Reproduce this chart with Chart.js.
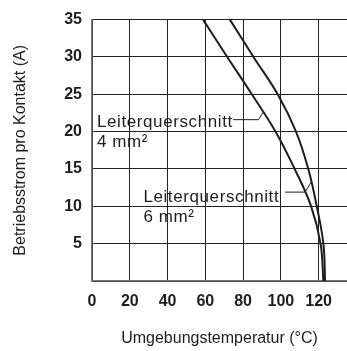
<!DOCTYPE html>
<html>
<head>
<meta charset="utf-8">
<script src="https://cdn.jsdelivr.net/npm/chart.js@4"></script>
<style>
    html, body { margin: 0; padding: 0; background: #fff; }
    #wrap { width: 347px; height: 351px; }
</style>
</head>
<body>
<div id="wrap"><canvas id="myChart"></canvas></div>
<script>
// Betriebsstrom (A) und Umgebungstemperatur (°C) je Leiterquerschnitt
const current = [35, 30, 25, 20, 15, 10, 5, 0];
const temp4mm = [58.8, 71.6, 84.6, 97.2, 107.3, 116.0, 121.0, 122.5];
const temp6mm = [73.0, 85.5, 98.3, 108.0, 114.5, 119.0, 122.5, 123.4];

const xTicks = [0, 20, 40, 60, 80, 100, 120];
const yTicks = [5, 10, 15, 20, 25, 30, 35];

const labels4 = ["Leiterquerschnitt", "4 mm²"];
const labels6 = ["Leiterquerschnitt", "6 mm²"];

const ink = "#1e1e1e";
const font = "'Liberation Sans', Arial, sans-serif";

// Beschriftungen mit Hinweislinie, in Datenkoordinaten
const notes = [
    { text: labels4, at: [2.6, 20.6], leader: [[74.7, 21.6], [88.1, 21.6], [90.6, 22.6]] },
    { text: labels6, at: [27.2, 10.6], leader: [[102.2, 11.9], [112.8, 11.9], [116.2, 13.3]] },
];

const notePlugin = {
    id: "notes",
    afterDatasetsDraw(chart) {
        const { ctx, scales: { x, y } } = chart;
        ctx.save();
        ctx.fillStyle = ink;
        ctx.strokeStyle = ink;
        ctx.lineWidth = 1;
        ctx.font = "17px " + font;
        ctx.letterSpacing = "0.6px";
        ctx.textBaseline = "alphabetic";
        notes.forEach((n) => {
            const px = x.getPixelForValue(n.at[0]);
            const py = y.getPixelForValue(n.at[1]);
            n.text.forEach((t, i) => ctx.fillText(t, px, py + i * 20));
            ctx.beginPath();
            n.leader.forEach((p, i) => {
                const lx = x.getPixelForValue(p[0]);
                const ly = y.getPixelForValue(p[1]);
                if (i === 0) ctx.moveTo(lx, ly);
                else ctx.lineTo(lx, ly);
            });
            ctx.stroke();
        });
        ctx.restore();
    },
};

const ctx = document.getElementById("myChart");

new Chart(ctx, {
    type: "line",
    data: {
        datasets: [
            {
                label: "4 mm²",
                data: current.map((a, i) => ({ x: temp4mm[i], y: a })),
                borderColor: ink,
                borderWidth: 2,
                pointRadius: 0,
                tension: 0.4,
            },
            {
                label: "6 mm²",
                data: current.map((a, i) => ({ x: temp6mm[i], y: a })),
                borderColor: ink,
                borderWidth: 2,
                pointRadius: 0,
                tension: 0.4,
            },
        ],
    },
    plugins: [notePlugin],
    options: {
        indexAxis: "y",
        responsive: true,
        maintainAspectRatio: false,
        animation: false,
        layout: {
            padding: { top: 16, right: 0, left: 0, bottom: 0 },
        },
        plugins: {
            legend: { display: false },
            tooltip: { enabled: false },
        },
        scales: {
            x: {
                type: "linear",
                min: 0,
                max: 135,
                afterBuildTicks: (axis) => {
                    axis.ticks = xTicks.map((v) => ({ value: v }));
                },
                afterFit: (axis) => {
                    axis.height = 70;
                },
                grid: {
                    color: "#222",
                    lineWidth: 1,
                    drawTicks: false,
                },
                border: {
                    color: "#777",
                    width: 1.5,
                },
                ticks: {
                    color: ink,
                    padding: 11,
                    maxRotation: 0,
                    font: { family: font, size: 16, weight: "bold" },
                },
                title: {
                    display: true,
                    text: "Umgebungstemperatur (°C)",
                    color: ink,
                    padding: { top: 0, bottom: 3 },
                    font: { family: font, size: 16 },
                },
            },
            y: {
                type: "linear",
                min: 0,
                max: 35,
                afterBuildTicks: (axis) => {
                    axis.ticks = [0].concat(yTicks).map((v) => ({ value: v }));
                },
                afterFit: (axis) => {
                    axis.width = 92;
                },
                grid: {
                    color: "#222",
                    lineWidth: 1,
                    drawTicks: false,
                },
                border: {
                    color: "#777",
                    width: 1.5,
                },
                ticks: {
                    color: ink,
                    padding: 10,
                    font: { family: font, size: 16, weight: "bold" },
                    callback: (v) => (v === 0 ? "" : v),
                },
                title: {
                    display: true,
                    text: "Betriebsstrom pro Kontakt (A)",
                    color: ink,
                    padding: { top: 11, bottom: 0 },
                    font: { family: font, size: 16 },
                },
            },
        },
    },
});
</script>
</body>
</html>
